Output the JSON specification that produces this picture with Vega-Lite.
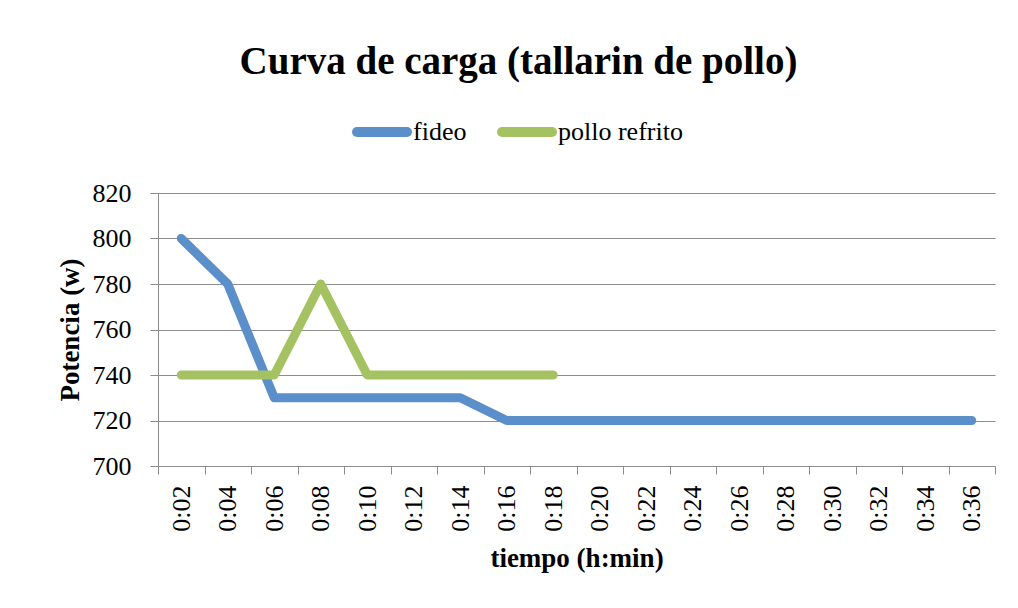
{
  "$schema": "https://vega.github.io/schema/vega-lite/v6.json",
  "width": 837,
  "height": 273,
  "autosize": {"type": "none"},
  "padding": {"left": 158, "top": 193, "right": 23, "bottom": 142},
  "background": "white",
  "title": {
    "text": "Curva de carga (tallarin de pollo)",
    "frame": "group",
    "anchor": "middle",
    "baseline": "alphabetic",
    "offset": -11,
    "dx": -58,
    "font": "Liberation Serif",
    "fontSize": 39,
    "fontWeight": "bold",
    "color": "black"
  },
  "data": {
    "values": [
      {"t": "0:02", "serie": "fideo", "potencia": 800},
      {"t": "0:04", "serie": "fideo", "potencia": 780},
      {"t": "0:06", "serie": "fideo", "potencia": 730},
      {"t": "0:08", "serie": "fideo", "potencia": 730},
      {"t": "0:10", "serie": "fideo", "potencia": 730},
      {"t": "0:12", "serie": "fideo", "potencia": 730},
      {"t": "0:14", "serie": "fideo", "potencia": 730},
      {"t": "0:16", "serie": "fideo", "potencia": 720},
      {"t": "0:18", "serie": "fideo", "potencia": 720},
      {"t": "0:20", "serie": "fideo", "potencia": 720},
      {"t": "0:22", "serie": "fideo", "potencia": 720},
      {"t": "0:24", "serie": "fideo", "potencia": 720},
      {"t": "0:26", "serie": "fideo", "potencia": 720},
      {"t": "0:28", "serie": "fideo", "potencia": 720},
      {"t": "0:30", "serie": "fideo", "potencia": 720},
      {"t": "0:32", "serie": "fideo", "potencia": 720},
      {"t": "0:34", "serie": "fideo", "potencia": 720},
      {"t": "0:36", "serie": "fideo", "potencia": 720},
      {"t": "0:02", "serie": "pollo refrito", "potencia": 740},
      {"t": "0:04", "serie": "pollo refrito", "potencia": 740},
      {"t": "0:06", "serie": "pollo refrito", "potencia": 740},
      {"t": "0:08", "serie": "pollo refrito", "potencia": 780},
      {"t": "0:10", "serie": "pollo refrito", "potencia": 740},
      {"t": "0:12", "serie": "pollo refrito", "potencia": 740},
      {"t": "0:14", "serie": "pollo refrito", "potencia": 740},
      {"t": "0:16", "serie": "pollo refrito", "potencia": 740},
      {"t": "0:18", "serie": "pollo refrito", "potencia": 740}
    ]
  },
  "mark": {"type": "line", "strokeWidth": 9, "strokeCap": "round", "strokeJoin": "round"},
  "encoding": {
    "x": {
      "field": "t",
      "type": "ordinal",
      "scale": {"type": "band", "paddingInner": 0, "paddingOuter": 0},
      "axis": {
        "title": "tiempo (h:min)",
        "labelAngle": -90,
        "labelPadding": 11,
        "tickBand": "extent",
        "tickSize": 8,
        "tickColor": "#8c8c8c",
        "domainColor": "#8c8c8c",
        "grid": false,
        "titlePadding": 14
      }
    },
    "y": {
      "field": "potencia",
      "type": "quantitative",
      "scale": {"domain": [700, 820], "nice": false, "zero": false},
      "axis": {
        "title": "Potencia (w)",
        "values": [700, 720, 740, 760, 780, 800, 820],
        "tickSize": 8,
        "labelPadding": 19,
        "titlePadding": 8,
        "tickColor": "#8c8c8c",
        "domainColor": "#8c8c8c",
        "gridColor": "#8c8c8c",
        "grid": true
      }
    },
    "color": {
      "field": "serie",
      "type": "nominal",
      "scale": {"domain": ["fideo", "pollo refrito"], "range": ["#5A8FC9", "#A5C263"]},
      "legend": {
        "title": null,
        "orient": "none",
        "direction": "horizontal",
        "legendX": 194,
        "legendY": -91,
        "symbolType": "stroke",
        "symbolSize": 2500,
        "symbolStrokeWidth": 10,
        "labelOffset": 1,
        "columnPadding": 15,
        "labelFont": "Liberation Serif",
        "labelFontSize": 26,
        "labelColor": "black",
        "padding": 0,
        "encode": {"symbols": {"update": {"strokeCap": {"value": "round"}}}}
      }
    }
  },
  "config": {
    "view": {"stroke": null},
    "axis": {
      "labelFont": "Liberation Serif",
      "labelFontSize": 26,
      "labelColor": "black",
      "titleFont": "Liberation Serif",
      "titleFontSize": 27,
      "titleFontWeight": "bold",
      "titleColor": "black",
      "domainWidth": 1,
      "tickWidth": 1,
      "gridWidth": 1,
      "gridOpacity": 1
    }
  }
}
